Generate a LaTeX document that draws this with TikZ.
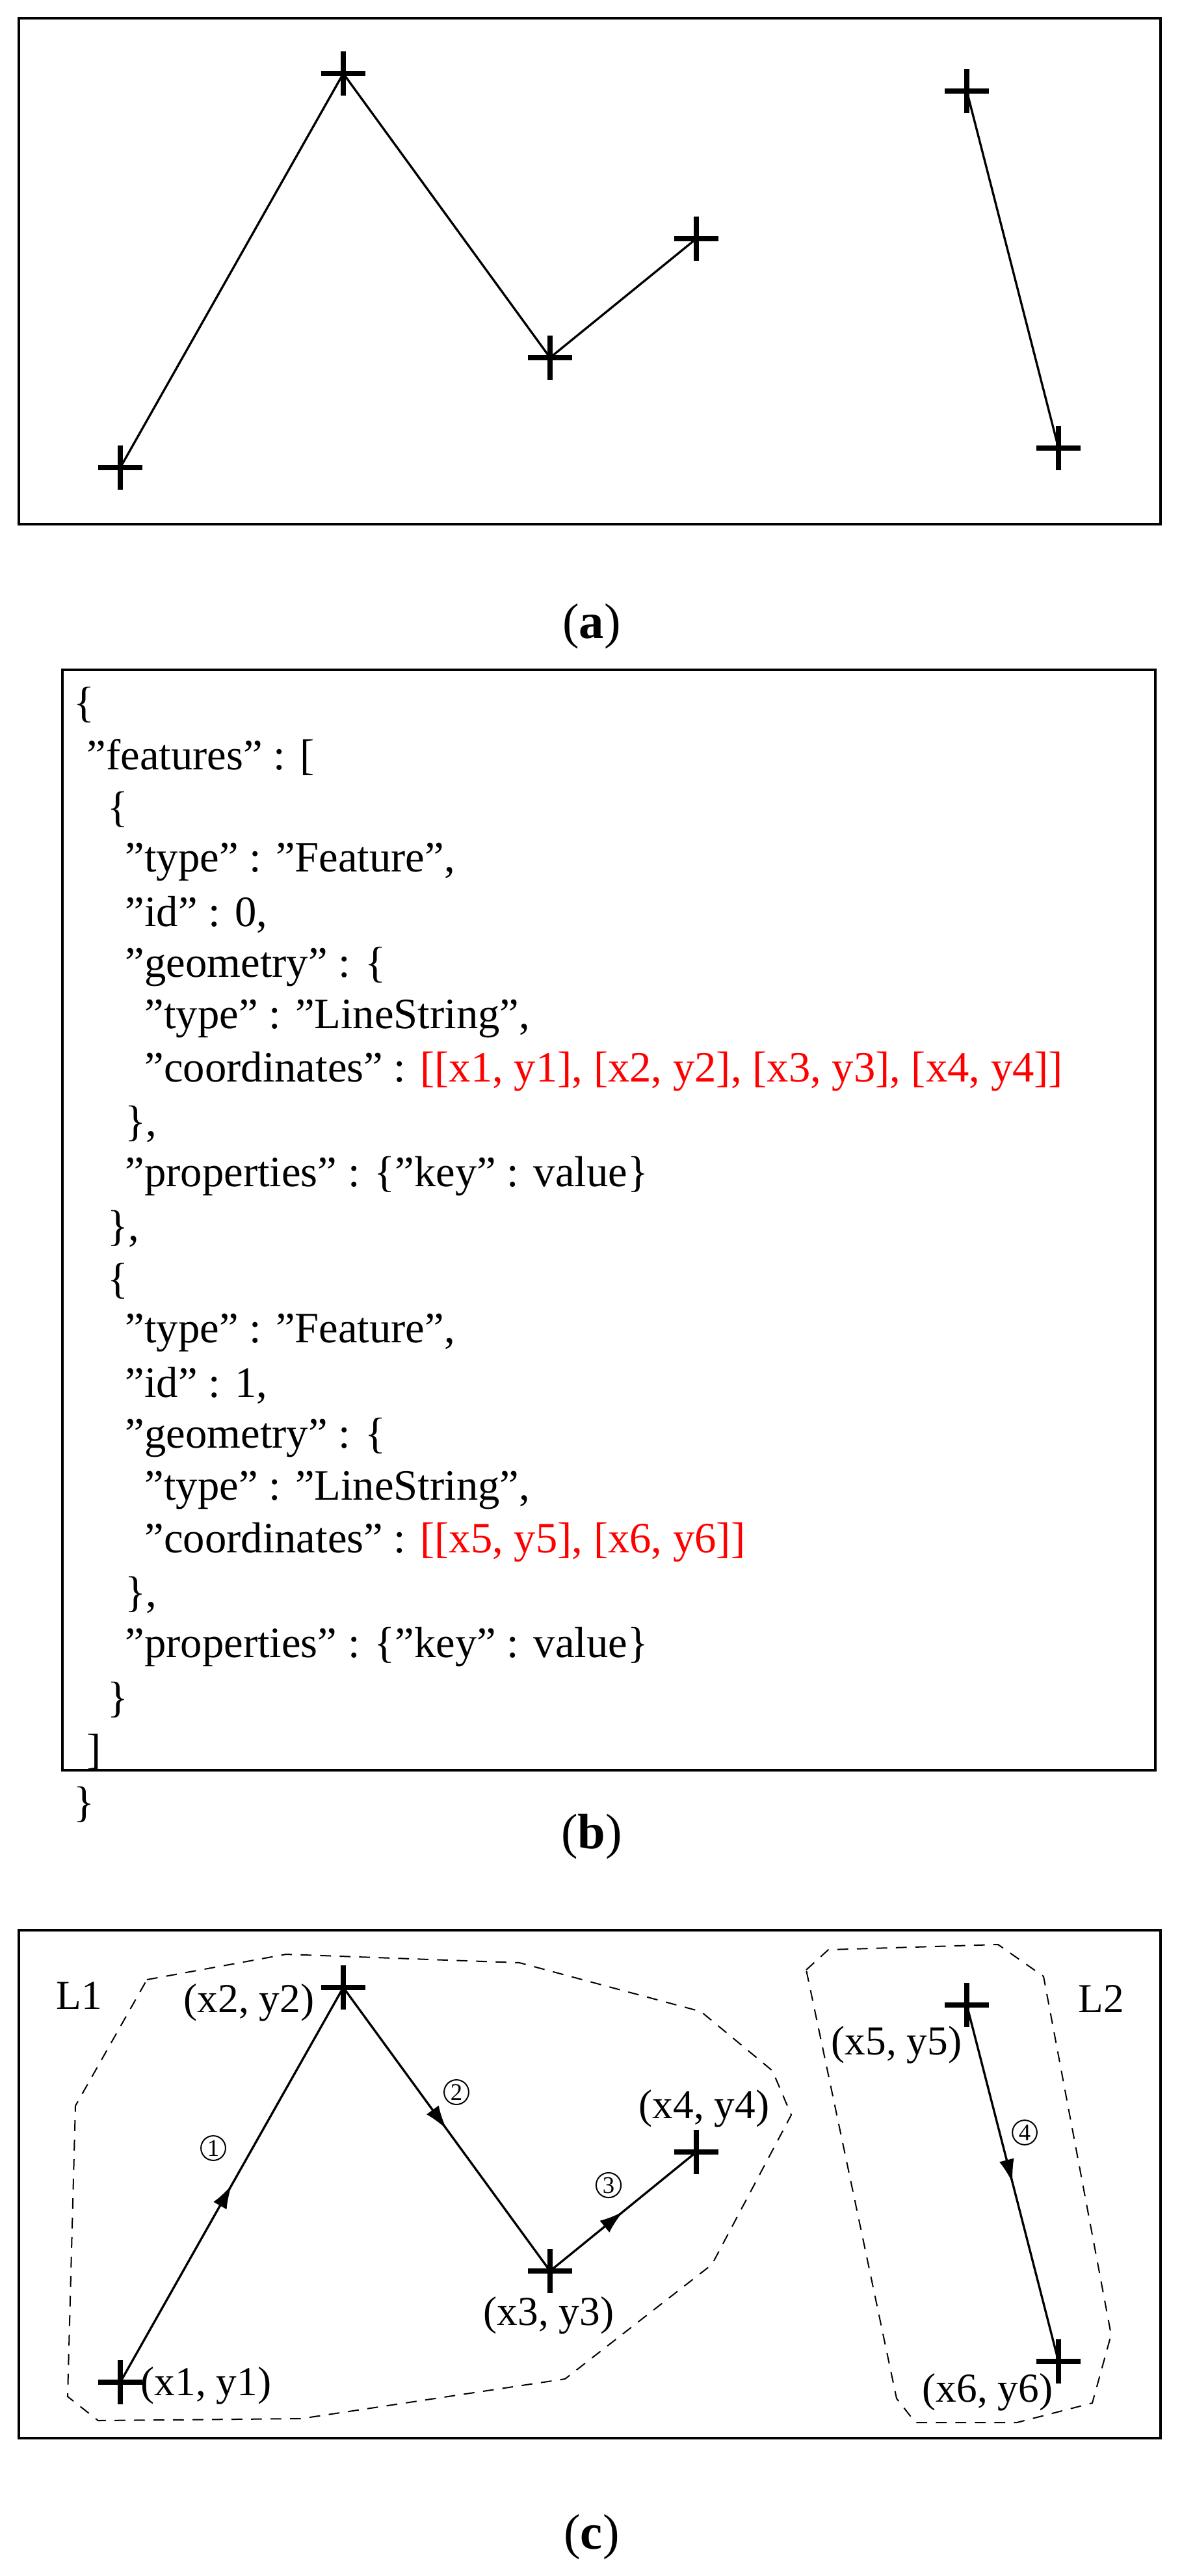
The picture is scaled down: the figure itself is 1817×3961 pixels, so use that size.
\documentclass[tikz,border=0pt]{standalone}
\usepackage{fontspec}
\setmainfont{Liberation Serif}
\usetikzlibrary{arrows.meta,decorations.markings}
\newcommand\qq{\symbol{34}}
\begin{document}
\begin{tikzpicture}[x=0.3pt,y=-0.3pt,
  frame/.style={line width=1.3pt},
  seg/.style={line width=1pt},
  crossmark/.style={line width=2.6pt},
  hull/.style={line width=0.6pt,dash pattern=on 5pt off 4pt},
  lbl/.style={font=\fontsize{19}{19}\selectfont,inner sep=0pt},
  json/.style={font=\fontsize{20}{20}\selectfont,anchor=west,inner sep=0pt},
  num/.style={circle,draw,line width=0.6pt,inner sep=0.8pt,font=\fontsize{11}{11}\selectfont},
  captxt/.style={font=\fontsize{23}{23}\selectfont,inner sep=0pt},
  midarrow/.style={postaction={decorate},decoration={markings,mark=at position 0.5 with {\arrow{Latex[length=11pt,width=7pt]}}}}]
\useasboundingbox (0,0) rectangle (1817,3961);
% ---------- (a)
\draw[frame] (29,28) rectangle (1785,806);
\coordinate (a1) at (185,719); \coordinate (a2) at (528,113);
\coordinate (a3) at (846,550); \coordinate (a4) at (1071,367);
\coordinate (a5) at (1487,140); \coordinate (a6) at (1628,689);
\draw[seg] (a1) -- (a2) -- (a3) -- (a4);
\draw[seg] (a5) -- (a6);
\foreach \p in {a1,a2,a3,a4,a5,a6}{\draw[crossmark] ([xshift=-10.2pt]\p) -- ([xshift=10.2pt]\p) ([yshift=10.2pt]\p) -- ([yshift=-10.2pt]\p);}
\node[captxt] (capa) at (910,963) {(\textbf{a})};
% ---------- (b)
\draw[frame] (96,1030) rectangle (1777,2722);
\foreach \t/\x [count=\i from 0] in {
 {\{}/113,
 {\qq features\qq{} : [}/133,
 {\{}/165,
 {\qq type\qq{} : \qq Feature\qq,}/192,
 {\qq id\qq{} : 0,}/192,
 {\qq geometry\qq{} : \{}/192,
 {\qq type\qq{} : \qq LineString\qq,}/222,
 {\qq coordinates\qq{} : \textcolor{red}{[[x1, y1], [x2, y2], [x3, y3], [x4, y4]]}}/222,
 {\},}/192,
 {\qq properties\qq{} : \{\qq key\qq{} : value\}}/192,
 {\},}/165,
 {\{}/165,
 {\qq type\qq{} : \qq Feature\qq,}/192,
 {\qq id\qq{} : 1,}/192,
 {\qq geometry\qq{} : \{}/192,
 {\qq type\qq{} : \qq LineString\qq,}/222,
 {\qq coordinates\qq{} : \textcolor{red}{[[x5, y5], [x6, y6]]}}/222,
 {\},}/192,
 {\qq properties\qq{} : \{\qq key\qq{} : value\}}/192,
 {\}}/165,
 {]}/133,
 {\}}/113}
 {\node[json] (j\i) at (\x,1084+\i*80.5) {\t};}
\node[captxt] (capb) at (910,2824) {(\textbf{b})};
% ---------- (c)
\draw[frame] (29,2968) rectangle (1785,3749);
\coordinate (c1) at (185,3663); \coordinate (c2) at (528,3056);
\coordinate (c3) at (846,3492); \coordinate (c4) at (1071,3309);
\coordinate (c5) at (1487,3083); \coordinate (c6) at (1628,3631);
\draw[hull] (226,3044) -- (440,3005) -- (799,3018) -- (1078,3093) -- (1188,3184) -- (1217,3252) -- (1095,3482) -- (869,3658) -- (463,3719) -- (151,3722) -- (104,3685) -- (116,3238) -- cycle;
\draw[hull] (1240,3029) -- (1274,2998) -- (1535,2990) -- (1605,3039) -- (1709,3590) -- (1680,3695) -- (1564,3725) -- (1408,3725) -- (1379,3688) -- cycle;
\draw[seg,midarrow] (c1) -- (c2);
\draw[seg,midarrow] (c2) -- (c3);
\draw[seg,midarrow] (c3) -- (c4);
\draw[seg,midarrow] (c5) -- (c6);
\foreach \p in {c1,c2,c3,c4,c5,c6}{\draw[crossmark] ([xshift=-10.2pt]\p) -- ([xshift=10.2pt]\p) ([yshift=10.2pt]\p) -- ([yshift=-10.2pt]\p);}
\node[lbl] (L1) at (122,3069) {L1};
\node[lbl] (L2) at (1694,3073) {L2};
\node[lbl,anchor=east] (t2) at (484,3079) {(x2, y2)};
\node[lbl,anchor=west] (t1) at (216,3668) {(x1, y1)};
\node[lbl] (t3) at (844,3560) {(x3, y3)};
\node[lbl] (t4) at (1083,3242) {(x4, y4)};
\node[lbl,anchor=east] (t5) at (1480,3144) {(x5, y5)};
\node[lbl,anchor=east] (t6) at (1620,3678) {(x6, y6)};
\node[num] (n1) at (328,3303) {1};
\node[num] (n2) at (702,3217) {2};
\node[num] (n3) at (936,3360) {3};
\node[num] (n4) at (1576,3279) {4};
\node[captxt] (capc) at (910,3901) {(\textbf{c})};
\end{tikzpicture}
\end{document}
